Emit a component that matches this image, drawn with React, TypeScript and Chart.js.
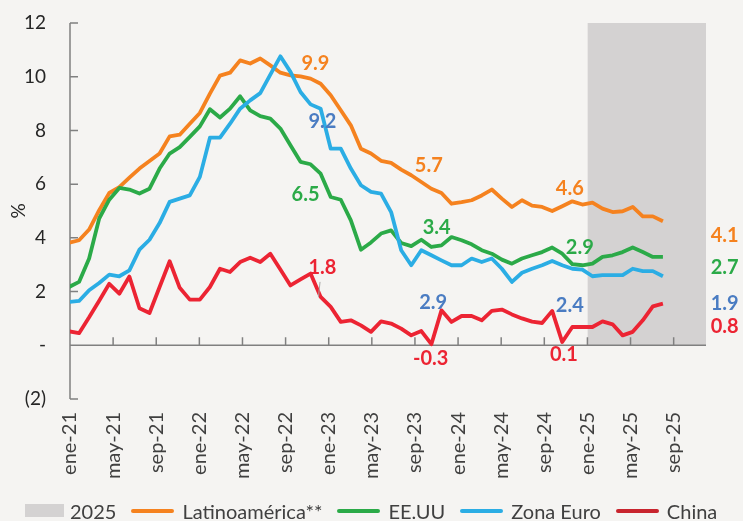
import React, { useEffect, useRef } from 'react';
import { Chart, registerables } from 'chart.js';

Chart.register(...registerables);

// ---------- data ----------
const monthNames = ['ene', 'feb', 'mar', 'abr', 'may', 'jun', 'jul', 'ago', 'sep', 'oct', 'nov', 'dic'];
const yearSuffixes = ['21', '22', '23', '24', '25'];
const categories: string[] = yearSuffixes.flatMap((y) => monthNames.map((m) => `${m}-${y}`));

const shadeName = '2025';
const shadeMonths = ['ene-25', 'feb-25', 'mar-25', 'abr-25', 'may-25', 'jun-25', 'jul-25', 'ago-25', 'sep-25', 'oct-25', 'nov-25', 'dic-25'];
const shadeTop = 12;

const latam = [
  3.82, 3.91, 4.31, 5.03, 5.67, 5.89, 6.24, 6.58, 6.86, 7.14,
  7.78, 7.84, 8.25, 8.65, 9.37, 10.04, 10.15, 10.61, 10.49, 10.68,
  10.42, 10.15, 10.05, 10.01, 9.93, 9.74, 9.31, 8.75, 8.19, 7.32,
  7.14, 6.87, 6.79, 6.54, 6.33, 6.08, 5.83, 5.67, 5.27, 5.33,
  5.4, 5.58, 5.8, 5.46, 5.15, 5.4, 5.2, 5.15, 5.0, 5.18,
  5.36, 5.24, 5.31, 5.09, 4.96, 4.99, 5.15, 4.8, 4.8, 4.62,
];
const eeuu = [
  2.17, 2.36, 3.23, 4.72, 5.42, 5.86, 5.8, 5.65, 5.83, 6.58,
  7.14, 7.38, 7.76, 8.15, 8.79, 8.48, 8.81, 9.27, 8.75, 8.53,
  8.44, 8.07, 7.45, 6.83, 6.74, 6.39, 5.52, 5.42, 4.65, 3.56,
  3.83, 4.16, 4.28, 3.81, 3.69, 3.93, 3.66, 3.72, 4.03, 3.91,
  3.76, 3.54, 3.41, 3.19, 3.04, 3.23, 3.35, 3.47, 3.64, 3.41,
  3.02, 2.98, 3.04, 3.29, 3.35, 3.47, 3.64, 3.47, 3.29, 3.29,
];
const zonaEuro = [
  1.61, 1.65, 2.05, 2.32, 2.63, 2.57, 2.79, 3.56, 3.93, 4.55,
  5.34, 5.46, 5.58, 6.27, 7.73, 7.73, 8.25, 8.81, 9.12, 9.39,
  10.08, 10.76, 10.18, 9.43, 8.97, 8.81, 7.32, 7.32, 6.58, 5.96,
  5.71, 5.65, 4.96, 3.54, 2.98, 3.54, 3.35, 3.16, 2.98, 2.98,
  3.23, 3.1, 3.23, 2.85, 2.36, 2.7, 2.85, 2.98, 3.14, 2.98,
  2.85, 2.82, 2.57, 2.61, 2.61, 2.61, 2.85, 2.76, 2.76, 2.57,
];
const china = [
  0.52, 0.45, 1.04, 1.66, 2.29, 1.92, 2.56, 1.38, 1.2, 2.17,
  3.13, 2.14, 1.7, 1.7, 2.17, 2.85, 2.73, 3.1, 3.26, 3.1,
  3.41, 2.82, 2.23, 2.45, 2.67, 1.8, 1.43, 0.87, 0.93, 0.74,
  0.5, 0.89, 0.81, 0.62, 0.37, 0.53, 0.04, 1.3, 0.87, 1.09,
  1.09, 0.93, 1.28, 1.33, 1.15, 1.0, 0.88, 0.83, 1.28, 0.12,
  0.68, 0.68, 0.68, 0.89, 0.78, 0.37, 0.5, 0.93, 1.45, 1.55,
];

const seriesNames = ['Latinoamérica**', 'EE.UU', 'Zona Euro', 'China'];
const seriesValues = [latam, eeuu, zonaEuro, china];

const labelTexts = ['9.9', '9.2', '6.5', '1.8', '5.7', '3.4', '2.9', '-0.3', '4.6', '2.9', '2.4', '0.1', '4.1', '2.7', '1.9', '0.8'];
const labelSeries = [0, 2, 1, 3, 0, 1, 2, 3, 0, 1, 2, 3, 0, 1, 2, 3];

// ---------- layout / style (kept apart from data) ----------
const labelAnchors: [number, number][] = [
  [24.48, 10.5], [25.17, 8.34], [23.5, 5.63], [25.17, 2.91],
  [35.74, 6.68], [36.53, 4.39], [36.18, 1.58], [35.93, -0.51],
  [49.75, 5.85], [50.74, 3.63], [49.75, 1.48], [49.16, -0.33],
  [65.13, 4.1], [65.13, 2.9], [65.13, 1.56], [65.13, 0.7],
];
const leader: [number, number, number, number] = [24.94, 2.36, 24.78, 1.8];

const FONT = 'Lato, "Open Sans", "DejaVu Sans", sans-serif';
const BG = '#F5F4F2';
const SHADE = '#D4D2D2';
const AXIS = '#808080';
const TEXT = '#262626';
const lineColors = ['#F5821F', '#2BAA48', '#2BADE4', '#EC2433'];
const labelColors = ['#F5821F', '#2BAA48', '#4A7CC2', '#EC2433'];
const legendSwatch = ['#F5821F', '#2BAA48', '#2BADE4', '#C8242E'];

const axesPlugin = {
  id: 'customAxes',
  afterDatasetDraw(chart: any, args: any) {
    if (args.index !== 0) return;
    const { ctx, chartArea } = chart;
    const { left, right, top, bottom } = chartArea;
    const x = chart.scales.x;
    const y = chart.scales.y;
    ctx.save();
    ctx.strokeStyle = AXIS;
    ctx.lineWidth = 1.5;
    ctx.beginPath();
    ctx.moveTo(left, top);
    ctx.lineTo(left, bottom);
    y.ticks.forEach((t: any) => {
      const py = y.getPixelForValue(t.value);
      ctx.moveTo(left, py);
      ctx.lineTo(left + 8, py);
    });
    const y0 = y.getPixelForValue(0);
    ctx.moveTo(left, y0);
    ctx.lineTo(right, y0);
    for (let i = 4; i < categories.length; i += 4) {
      const px = x.getPixelForValue(i);
      ctx.moveTo(px, y0);
      ctx.lineTo(px, y0 - 8);
    }
    ctx.stroke();
    ctx.restore();
  },
};

const labelsPlugin = {
  id: 'valueLabels',
  afterDatasetsDraw(chart: any) {
    const { ctx } = chart;
    const x2 = chart.scales.x2;
    const y = chart.scales.y;
    ctx.save();
    ctx.strokeStyle = '#A6A6A6';
    ctx.lineWidth = 1;
    ctx.beginPath();
    ctx.moveTo(x2.getPixelForValue(leader[0]), y.getPixelForValue(leader[1]));
    ctx.lineTo(x2.getPixelForValue(leader[2]), y.getPixelForValue(leader[3]));
    ctx.stroke();
    ctx.font = `bold 20px ${FONT}`;
    ctx.textAlign = 'center';
    ctx.textBaseline = 'middle';
    labelTexts.forEach((t, i) => {
      const [ax, ay] = labelAnchors[i];
      ctx.fillStyle = labelColors[labelSeries[i]];
      ctx.fillText(t, x2.getPixelForValue(ax), y.getPixelForValue(ay));
    });
    ctx.restore();
  },
};

export default function App() {
  const ref = useRef<HTMLCanvasElement | null>(null);

  useEffect(() => {
    if (!ref.current) return;
    const shadeData = categories.map((c) => (shadeMonths.includes(c) ? shadeTop : null));
    const lineSets = seriesValues.map((vals, s) => ({
      type: 'line' as const,
      label: seriesNames[s],
      data: vals.map((v, k) => ({ x: k, y: v })),
      xAxisID: 'x2',
      yAxisID: 'y',
      borderColor: lineColors[s],
      backgroundColor: lineColors[s],
      borderWidth: 3.8,
      pointRadius: 0,
      tension: 0,
      fill: false,
      borderJoinStyle: 'round' as const,
      order: 4 - s,
    }));
    const chart = new Chart(ref.current, {
      type: 'line',
      data: {
        labels: categories,
        datasets: [
          {
            type: 'line',
            label: shadeName,
            data: shadeData,
            xAxisID: 'x',
            yAxisID: 'y',
            backgroundColor: SHADE,
            borderColor: SHADE,
            borderWidth: 0,
            pointRadius: 0,
            fill: 'origin',
            spanGaps: false,
            order: 10,
          } as any,
          ...lineSets,
        ],
      },
      options: {
        responsive: false,
        animation: false,
        layout: { padding: { left: 0, right: 33, top: 23, bottom: 0 } },
        plugins: { legend: { display: false }, tooltip: { enabled: false } },
        scales: {
          x: {
            type: 'category',
            offset: false,
            border: { display: false },
            grid: { display: false, drawTicks: false },
            ticks: {
              autoSkip: false,
              minRotation: 90,
              maxRotation: 90,
              padding: 13,
              color: '#404040',
              font: { family: FONT, size: 20 },
              callback: (_v: any, i: number) => (i % 4 === 0 ? categories[i] : ''),
            },
            afterFit: (s: any) => {
              s.height = 122;
            },
          },
          x2: {
            type: 'linear',
            display: false,
            min: 0.1,
            max: 63.28,
          },
          y: {
            min: -2,
            max: 12,
            border: { display: false },
            grid: { display: false, drawTicks: true, tickLength: 24 },
            ticks: {
              stepSize: 2,
              padding: 0,
              color: TEXT,
              font: { family: FONT, size: 19 },
              callback: (v: any) => (v < 0 ? `(${-v})` : v === 0 ? '-' : `${v}`),
            },
            title: {
              display: true,
              text: '%',
              color: TEXT,
              font: { family: FONT, size: 19 },
              padding: { top: 7, bottom: 0 },
            },
            afterFit: (s: any) => {
              s.width = 70;
            },
          },
        },
      },
      plugins: [axesPlugin, labelsPlugin],
    } as any);
    return () => chart.destroy();
  }, []);

  const legendItems = [
    { name: shadeName, color: SHADE, box: true },
    ...seriesNames.map((n, i) => ({ name: n, color: legendSwatch[i], box: false })),
  ];

  return (
    <div style={{ position: 'absolute', left: 0, top: 0, width: 743, height: 521, background: BG, overflow: 'hidden' }}>
      <canvas ref={ref} width={743} height={521} style={{ position: 'absolute', left: 0, top: 0 }} />
      <div
        style={{
          position: 'absolute',
          left: 25,
          top: 500,
          height: 21,
          display: 'flex',
          alignItems: 'center',
          fontFamily: FONT,
          fontSize: 20,
          color: '#404040',
          whiteSpace: 'nowrap',
        }}
      >
        {legendItems.map((it, i) => (
          <div key={i} style={{ display: 'flex', alignItems: 'center', marginRight: 15 }}>
            <div
              style={
                it.box
                  ? { width: 39, height: 13, background: it.color, marginRight: 6 }
                  : { width: 43, height: 4, borderRadius: 2, background: it.color, marginRight: 8 }
              }
            />
            <span>{it.name}</span>
          </div>
        ))}
      </div>
    </div>
  );
}
